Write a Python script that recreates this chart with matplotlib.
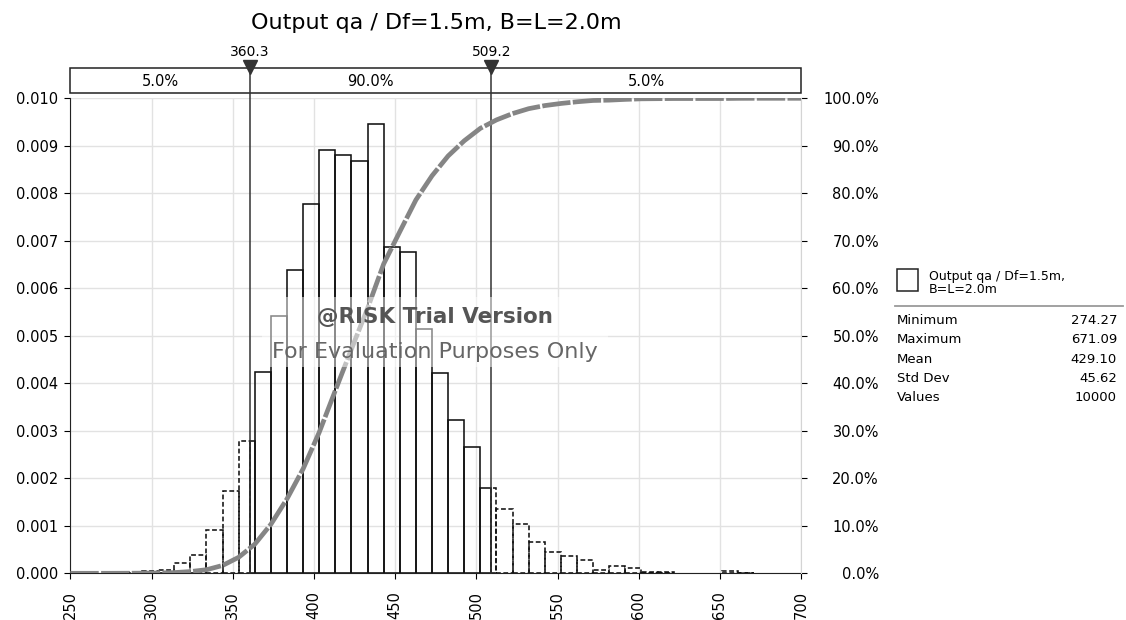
import numpy as np
import matplotlib.pyplot as plt
from matplotlib.patches import Rectangle
from matplotlib.lines import Line2D

# histogram of the simulation output (40 bins between min and max)
x_min, x_max = 274.27, 671.09
density = [0.00001, 0.00002, 0.00004, 0.00008, 0.00022, 0.00039, 0.00091, 0.00174,
           0.00279, 0.00424, 0.00542, 0.00639, 0.00778, 0.00891, 0.00881, 0.00867,
           0.00946, 0.00686, 0.00676, 0.00514, 0.00422, 0.00323, 0.00265, 0.00179,
           0.00135, 0.00104, 0.00066, 0.00045, 0.00036, 0.00028, 0.00007, 0.00016,
           0.00012, 0.00003, 0.00003, 0.0, 0.0, 0.0, 0.00004, 0.00001]
p5, p95 = 360.3, 509.2
band_labels = ['5.0%', '90.0%', '5.0%']
stats_labels = ['Minimum', 'Maximum', 'Mean', 'Std Dev', 'Values']
stats_values = ['274.27', '671.09', '429.10', '45.62', '10000']
title = 'Output qa / Df=1.5m, B=L=2.0m'
legend_name = 'Output qa / Df=1.5m,\nB=L=2.0m'

W, H = 1126, 620
fig = plt.figure(figsize=(W / 100, H / 100), dpi=100)
ax = fig.add_axes([70.4 / W, 1 - 573.3 / H, 730.8 / W, 475 / H])

density = np.array(density)
edges = np.linspace(x_min, x_max, len(density) + 1)

# split bars into solid (inside 5-95%) and dashed (tails) pieces
solid, dashed = [], []
for lo, hi, h in zip(edges[:-1], edges[1:], density):
    if h == 0:
        continue
    a, b = max(lo, p5), min(hi, p95)
    if a < b:
        solid.append((a, b - a, h))
    if lo < min(hi, p5):
        dashed.append((lo, min(hi, p5) - lo, h))
    if max(lo, p95) < hi:
        dashed.append((max(lo, p95), hi - max(lo, p95), h))

for parts, ls in [(solid, '-'), (dashed, (0, (3, 1.6)))]:
    xs, ws, hs = zip(*parts)
    ax.bar(xs, hs, width=ws, align='edge', fill=False, edgecolor='#111111',
           linewidth=1.15, linestyle=ls, zorder=3)

ax.set_xlim(250, 700)
ax.set_ylim(0, 0.010)
ax.set_xticks(np.arange(250, 701, 50))
ax.set_yticks(np.arange(0, 0.0101, 0.001))
ax.yaxis.set_major_formatter(plt.FormatStrFormatter('%.3f'))
ax.grid(color='#e2e2e2', linewidth=1, zorder=0)
ax.set_axisbelow(True)
ax.tick_params(axis='x', length=4, pad=9, labelsize=10.5, rotation=90)
ax.tick_params(axis='y', length=4, pad=5, labelsize=10.5)
for s in ['top', 'right']:
    ax.spines[s].set_visible(False)
for s in ['left', 'bottom']:
    ax.spines[s].set_color('#222222')

# cumulative curve on the right axis
ax2 = ax.twinx()
cdf = np.concatenate([[0], np.cumsum(density * np.diff(edges))])
cdf = cdf / cdf[-1]
cx = np.concatenate([[250], edges, [700]])
cy = np.concatenate([[0], cdf, [1]])
ax2.plot(cx, cy, color='#858585', linewidth=3.4, linestyle=(0, (6, 0.5)), zorder=4)
ax2.set_ylim(0, 1)
ax2.set_yticks(np.arange(0, 1.01, 0.1))
ax2.set_yticklabels([f'{v * 100:.1f}%' for v in np.arange(0, 1.01, 0.1)])
ax2.tick_params(axis='y', length=4, pad=52, labelsize=10.5)
for lab in ax2.get_yticklabels():
    lab.set_ha('right')
for s in ['top', 'left', 'bottom']:
    ax2.spines[s].set_visible(False)
ax2.spines['right'].set_color('#d4d4d4')

# percentile band above the plot
tr = ax.get_xaxis_transform()
ax.add_patch(Rectangle((250, 1.0105), 450, 0.0526, transform=tr, clip_on=False,
                       facecolor='white', edgecolor='#222222', linewidth=1.1))
band_edges = [250, p5, p95, 700]
for lab, lo, hi in zip(band_labels, band_edges[:-1], band_edges[1:]):
    ax.text((lo + hi) / 2, 1.035, lab, transform=tr, ha='center', va='center',
            fontsize=10.5)
for p in [p5, p95]:
    ax.add_line(Line2D([p, p], [0, 1.063], transform=tr, color='#333333',
                       linewidth=1.1, clip_on=False, zorder=5))
    ax.plot([p], [1.066], marker='v', markersize=10, color='#333333',
            transform=tr, clip_on=False, zorder=6)
    ax.text(p, 1.0975, f'{p:.1f}', transform=tr, ha='center', va='center',
            fontsize=10)

fig.text(436 / W, 1 - 23 / H, title, ha='center', va='center', fontsize=16)

# trial watermark
fig.patches.append(Rectangle((262 / W, 1 - 367 / H), 346 / W, 70 / H,
                             transform=fig.transFigure, facecolor='white',
                             edgecolor='none', alpha=0.5, zorder=5))
fig.text(435 / W, 1 - 317 / H, '@RISK Trial Version', ha='center', va='center',
         fontsize=15.5, fontweight='bold', color='#555555', zorder=6)
fig.text(435 / W, 1 - 352 / H, 'For Evaluation Purposes Only', ha='center',
         va='center', fontsize=16, color='#666666', zorder=6)

# legend and statistics
fig.patches.append(Rectangle((897 / W, 1 - 291 / H), 21 / W, 22 / H,
                             transform=fig.transFigure, facecolor='white',
                             edgecolor='#222222', linewidth=1.1))
fig.text(929 / W, 1 - 283 / H, legend_name, ha='left', va='center',
         fontsize=9, linespacing=1.0)
fig.add_artist(Line2D([895 / W, 1123 / W], [1 - 306 / H, 1 - 306 / H],
                      color='#9a9a9a', linewidth=1.3))
for i, (lab, val) in enumerate(zip(stats_labels, stats_values)):
    y = 1 - (320.5 + 19.3 * i) / H
    fig.text(897 / W, y, lab, ha='left', va='center', fontsize=9.5)
    fig.text(1117 / W, y, val, ha='right', va='center', fontsize=9.5)

fig.savefig('out.png', dpi=100)
